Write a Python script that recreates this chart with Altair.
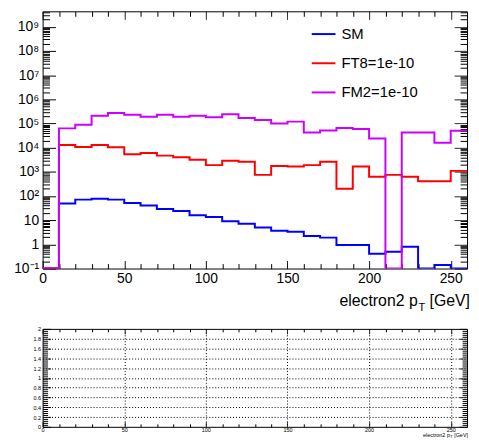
import json
import altair as alt
import pandas as pd

# ---------------- data ----------------
bin_left_edges = list(range(0, 260, 10))
x_range = [0, 260]
series_names = ["SM", "FT8=1e-10", "FM2=1e-10"]
series_colors = ["#0000ff", "#ff0000", "#cc00ff"]

sm = [0, 49, 71, 78, 71, 51, 41, 29, 24, 16, 13.7, 9.1, 7.1, 5.0, 3.7, 3.3,
      2.2, 1.9, 0.95, 0.95, 0.41, 0.49, 0.79, 0, 0.14, 0]
ft8 = [0, 1.3e4, 1.07e4, 1.3e4, 1.05e4, 5.4e3, 6.0e3, 4.7e3, 4.0e3, 3.2e3,
       1.9e3, 2.9e3, 2.6e3, 7.5e2, 1.75e3, 1.65e3, 1.9e3, 2.6e3, 2.0e2,
       1.65e3, 6.3e2, 7.5e2, 6.3e2, 4.1e2, 4.1e2, 1.1e3]
fm2 = [0, 6.3e4, 9.0e4, 2.1e5, 2.7e5, 2.3e5, 1.9e5, 2.3e5, 1.9e5, 2.1e5,
       1.8e5, 2.4e5, 1.7e5, 1.4e5, 1.0e5, 1.2e5, 4.3e4, 5.2e4, 6.5e4, 5.9e4,
       2.4e4, 0, 4.3e4, 4.3e4, 1.6e4, 5.0e4]

y_range = [0.1, 4.4e9]
ratio_y_range = [0, 2]

x_major_ticks = list(range(0, 251, 50))
x_all_ticks = list(range(0, 251, 10))
log_exponents = list(range(-1, 10))
ratio_ticks = [round(i * 0.04, 2) for i in range(0, 51)]

rows = []
for name, vals in zip(series_names, [sm, ft8, fm2]):
    for e, v in zip(bin_left_edges + [x_range[1]], vals + [vals[-1]]):
        rows.append({"series": name, "x": e, "v": v})
df = pd.DataFrame(rows)

ratio_df = pd.DataFrame({"x": x_range, "r": ratio_y_range})

# ---------------- styling helpers ----------------
FONT = "Liberation Sans"
W, H_TOP, H_BOT = 429, 260, 99

sup = {"-": "\u207b", "0": "\u2070", "1": "\u00b9", "2": "\u00b2", "3": "\u00b3",
       "4": "\u2074", "5": "\u2075", "6": "\u2076", "7": "\u2077", "8": "\u2078",
       "9": "\u2079"}


def pow_label(k):
    if k == 0:
        return "1"
    if k == 1:
        return "10"
    return "10" + "".join(sup[c] for c in str(k))


log_labels = [pow_label(k) for k in log_exponents]
y_ticks = []
for k in log_exponents:
    for m in range(1, 10):
        val = m * 10.0 ** k
        if val <= y_range[1]:
            y_ticks.append(val)

LOG_MAJOR = "abs(log(datum.value)/LN10 - round(log(datum.value)/LN10)) < 1e-6"
log_label_expr = (LOG_MAJOR + " ? " + json.dumps(log_labels, ensure_ascii=False)
                  + "[round(log(datum.value)/LN10) + 1] : ''")
X_MAJOR = "datum.value % 50 == 0"
R_MAJOR = "abs(datum.value*5 - round(datum.value*5)) < 1e-6"


def axis(orient, values, major_test, big, small, labels=False, label_expr=None,
         font_size=14, pad=4, grid=False, grid_test=None):
    kw = dict(
        orient=orient, values=values, title=None, domain=False,
        tickSize=big, offset=-big, tickColor="black", tickWidth=1,
        tickDash={"condition": {"test": major_test, "value": [1, 0]},
                  "value": [0, big - small, small, 0]},
        labels=labels, grid=grid, minExtent=0,
    )
    if labels:
        kw.update(labelExpr=label_expr, labelFont=FONT,
                  labelFontSize={"condition": {"test": major_test,
                                               "value": font_size},
                                 "value": 0},
                  labelColor="black", labelPadding=pad, labelOverlap=False,
                  labelFlush=False, labelBound=False)
    if grid:
        kw.update(gridColor="black", gridDash=[1, 2], gridWidth=1,
                  gridOpacity={"condition": {"test": grid_test, "value": 1},
                               "value": 0})
    return alt.Axis(**kw)


x_scale = alt.Scale(domain=x_range, nice=False, zero=False)
y_scale = alt.Scale(type="log", domain=y_range, nice=False)
r_scale = alt.Scale(domain=ratio_y_range, nice=False, zero=False)


def title_layers(right_x, base_y, size, sub_size):
    # "electron2 p_T [GeV]" assembled with a subscript T (Arial metrics)
    w_gev = 2835 * size / 1000.0
    w_t = 611 * sub_size / 1000.0
    pieces = [
        (" [GeV]", right_x, base_y, size),
        ("T", right_x - w_gev, base_y + size * 0.28, sub_size),
        ("electron2 p", right_x - w_gev - w_t - size * 0.05, base_y, size),
    ]
    out = []
    for txt, xx, yy, fs in pieces:
        out.append(
            alt.Chart(pd.DataFrame({"t": [txt]})).mark_text(
                align="right", baseline="alphabetic", font=FONT, fontSize=fs,
                color="black").encode(text="t:N", x=alt.value(xx), y=alt.value(yy))
        )
    return out


# ---------------- top panel ----------------
base = alt.Chart(df).transform_calculate(yv="max(datum.v, 0.1)")

lines = base.mark_line(interpolate="step-after", strokeWidth=2, clip=True).encode(
    x=alt.X("x:Q", scale=x_scale,
            axis=axis("bottom", x_all_ticks, X_MAJOR, 8, 5, labels=True,
                      label_expr=X_MAJOR + " ? datum.label : ''", pad=3)),
    y=alt.Y("yv:Q", scale=y_scale,
            axis=axis("left", y_ticks, LOG_MAJOR, 13, 7, labels=True,
                      label_expr=log_label_expr, pad=4)),
    color=alt.Color("series:N",
                    scale=alt.Scale(domain=series_names, range=series_colors),
                    legend=alt.Legend(orient="none", legendX=271, legendY=10,
                                      title=None, symbolType="stroke",
                                      symbolSize=576, symbolStrokeWidth=2,
                                      labelFont=FONT, labelFontSize=15,
                                      labelColor="black", labelOffset=5,
                                      rowPadding=8.5, padding=0)),
)

ghost = base.mark_line(strokeOpacity=0).encode(
    x=alt.X("x:Q", scale=x_scale, axis=axis("top", x_all_ticks, X_MAJOR, 8, 5)),
    y=alt.Y("yv:Q", scale=y_scale, axis=axis("right", y_ticks, LOG_MAJOR, 13, 7)),
    detail="series:N",
)

top = alt.layer(lines, ghost, *title_layers(W + 3, 298, 16, 11)).resolve_scale(
    x="independent", y="independent").properties(width=W, height=H_TOP)

# ---------------- ratio panel ----------------
b1 = alt.Chart(ratio_df).mark_point(opacity=0).encode(
    x=alt.X("x:Q", scale=x_scale,
            axis=axis("bottom", x_all_ticks, X_MAJOR, 5, 3, labels=True,
                      label_expr=X_MAJOR + " ? datum.label : ''", font_size=5.5,
                      pad=1, grid=True,
                      grid_test="datum.value % 50 == 0 && datum.value > 0")),
    y=alt.Y("r:Q", scale=r_scale,
            axis=axis("left", ratio_ticks, R_MAJOR, 8, 5, labels=True,
                      label_expr=R_MAJOR + " ? format(datum.value, '~g') : ''",
                      font_size=5.5, pad=2, grid=True,
                      grid_test=R_MAJOR + " && datum.value > 0 && datum.value < 2")),
)
b2 = alt.Chart(ratio_df).mark_point(opacity=0).encode(
    x=alt.X("x:Q", scale=x_scale, axis=axis("top", x_all_ticks, X_MAJOR, 5, 3)),
    y=alt.Y("r:Q", scale=r_scale, axis=axis("right", ratio_ticks, R_MAJOR, 8, 5)),
)

bottom = alt.layer(b1, b2, *title_layers(W + 1, 109, 5.5, 4)).resolve_scale(
    x="independent", y="independent").properties(width=W, height=H_BOT)

chart = alt.vconcat(top, bottom, spacing=12).properties(
    padding={"left": 5, "top": 0, "right": 0, "bottom": 0}
).configure(font=FONT).configure_view(stroke="black", strokeWidth=1)

chart.save("out.html", embed_options={"renderer": "svg", "actions": False})
